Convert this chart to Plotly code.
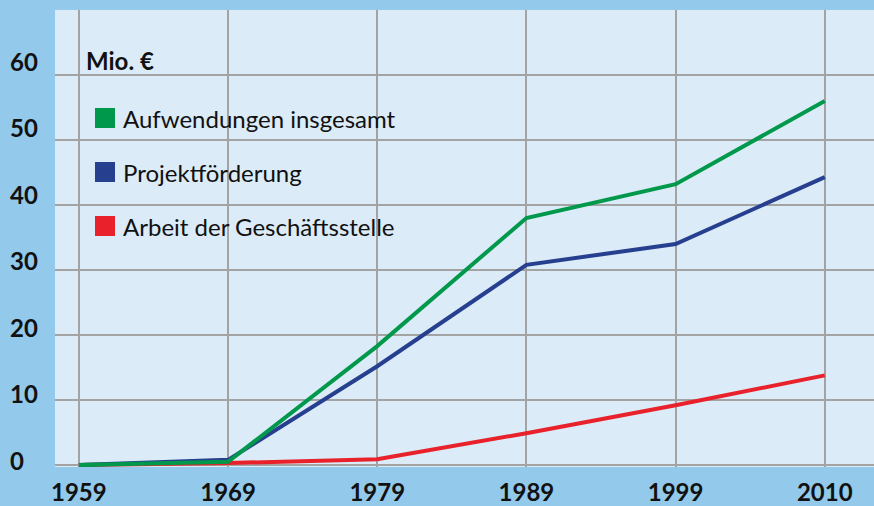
import plotly.graph_objects as go

years = ["1959", "1969", "1979", "1989", "1999", "2010"]
gesamt = [0, 0.5, 18.3, 38.0, 43.2, 56.0]
projekt = [0, 0.8, 15.2, 30.8, 34.0, 44.3]
geschaeft = [0, 0.3, 0.9, 4.9, 9.2, 13.8]
y_ticks = [0, 10, 20, 30, 40, 50, 60]

names = ["Aufwendungen insgesamt", "Projektförderung", "Arbeit der Geschäftsstelle"]
colors = ["#00994c", "#263f8f", "#e8212b"]
series = [gesamt, projekt, geschaeft]

fig = go.Figure()
xi = list(range(len(years)))
for name, col, vals in zip(names[::-1], colors[::-1], series[::-1]):
    fig.add_trace(go.Scatter(x=xi, y=vals, mode="lines", name=name,
                             line=dict(color=col, width=4), showlegend=False))

font = "Lato"
fig.update_layout(
    width=874, height=506,
    margin=dict(l=55, r=0, t=10, b=39),
    paper_bgcolor="#93c9ea", plot_bgcolor="#dbebf7",
    font=dict(family=font, color="#111111"),
    xaxis=dict(range=[-0.16, 5.33], tickvals=xi, ticktext=years,
               showgrid=True, gridcolor="#a3a3a3", gridwidth=2,
               zeroline=False, showline=False, ticks="", automargin=False,
               tickfont=dict(size=24, family=font, weight="bold", color="#111"),
               ticklabelstandoff=9),
    yaxis=dict(range=[-0.3, 70], tickvals=y_ticks, showticklabels=False,
               showgrid=True, gridcolor="#a3a3a3", gridwidth=2,
               zeroline=False, showline=False, ticks="", automargin=False),
    # helper axis for the (slightly differently spaced) left-aligned value labels
    yaxis2=dict(range=[-1.05, 67.67], overlaying="y", side="left", visible=False,
                showgrid=False, zeroline=False, automargin=False),
)

for v in y_ticks:
    fig.add_annotation(text=f"<b>{v}</b>", xref="paper", yref="y2",
                       x=(8 - 55) / 819, y=v, xanchor="left", yanchor="middle",
                       showarrow=False, font=dict(size=24, family=font, color="#111"))

fig.add_annotation(text="<b>Mio. €</b>", xref="paper", yref="paper",
                   x=(84 - 55) / 819, y=(467 - 61) / 457, xanchor="left", yanchor="middle",
                   showarrow=False, font=dict(size=24, family=font, color="#111"))

legend_y = [118, 172, 226]
for name, col, ly in zip(names, colors, legend_y):
    fig.add_shape(type="rect", xref="paper", yref="paper",
                  x0=(95 - 55) / 819, x1=(115 - 55) / 819,
                  y0=(467 - (ly + 10)) / 457, y1=(467 - (ly - 10)) / 457,
                  fillcolor=col, line=dict(width=0))
    fig.add_annotation(text=name, xref="paper", yref="paper",
                       x=(121 - 55) / 819, y=(467 - ly) / 457,
                       xanchor="left", yanchor="middle", showarrow=False,
                       font=dict(size=24, family=font, color="#111"))

fig.write_html("out.html", config={"displayModeBar": False},
               post_script="document.body.style.margin='0';")
